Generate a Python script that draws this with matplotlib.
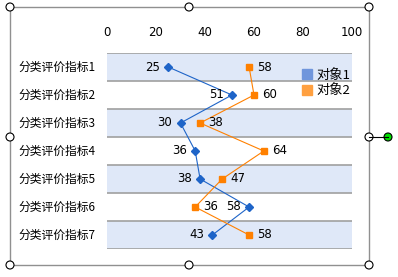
import matplotlib
matplotlib.use("Agg")
import matplotlib.pyplot as plt
from matplotlib.lines import Line2D
from matplotlib.patches import Rectangle, Circle
from matplotlib.transforms import blended_transform_factory

plt.rcParams['font.family'] = ['Noto Sans CJK SC', 'DejaVu Sans']

# data
categories = ["分类评价指标1", "分类评价指标2", "分类评价指标3", "分类评价指标4",
              "分类评价指标5", "分类评价指标6", "分类评价指标7"]
obj1 = [25, 51, 30, 36, 38, 58, 43]
obj2 = [58, 60, 38, 64, 47, 36, 58]
series_names = ["对象1", "对象2"]
x_ticks = [0, 20, 40, 60, 80, 100]

W, H = 398, 277
fig = plt.figure(figsize=(W / 100, H / 100), dpi=100)

# plot area in pixels: x 107..352, y 53..249
ax = fig.add_axes([107 / W, 1 - 249 / H, 245 / W, 196 / H])
ypos = list(range(1, len(categories) + 1))

for i in ypos:
    if i % 2 == 1:
        ax.axhspan(i - 0.5, i + 0.5, color='#DFE8F8', lw=0, zorder=0)
for i in range(len(categories) + 1):
    ax.axhline(i + 0.5, color='#A0A0A0', lw=1.2, zorder=1)

blue = '#1E64C8'
orange = '#FF8000'
ax.plot(obj1, ypos, color=blue, lw=0.8, marker='D', markersize=3.6, zorder=3)
ax.plot(obj2, ypos, color=orange, lw=0.8, marker='s', markersize=4.5, zorder=3)

for v, y in zip(obj1, ypos):
    ax.annotate(str(v), (v, y), xytext=(-6, 0), textcoords='offset points',
                ha='right', va='center', fontsize=8.5, family='DejaVu Sans')
for v, y in zip(obj2, ypos):
    ax.annotate(str(v), (v, y), xytext=(6, 0), textcoords='offset points',
                ha='left', va='center', fontsize=8.5, family='DejaVu Sans')

ax.set_xlim(0, 100)
ax.set_ylim(len(categories) + 0.5, 0.5)
ax.xaxis.tick_top()
ax.set_xticks(x_ticks)
ax.set_xticklabels([str(t) for t in x_ticks], fontsize=8.5, family='DejaVu Sans')
ax.tick_params(axis='x', length=0, pad=10)
ax.set_yticks([])
for s in ax.spines.values():
    s.set_visible(False)

# category labels, left aligned at x=18px
trans = blended_transform_factory(fig.transFigure, ax.transData)
for name, y in zip(categories, ypos):
    ax.text(18 / W, y, name, transform=trans, ha='left', va='center', fontsize=8.5)

handles = [Line2D([], [], marker='s', ls='none', color='#7096DC', markersize=7),
           Line2D([], [], marker='s', ls='none', color='#FFA040', markersize=7)]
fig.legend(handles, series_names, loc='upper left',
           bbox_to_anchor=(295 / W, 1 - 62 / H), frameon=False, fontsize=9.5,
           borderpad=0, handlelength=0.8, handletextpad=0.3, labelspacing=0.2)

# chart frame with selection handles
ov = fig.add_axes([0, 0, 1, 1], zorder=10)
ov.set_xlim(0, W)
ov.set_ylim(H, 0)
ov.axis('off')
ov.patch.set_alpha(0)
ov.add_patch(Rectangle((10, 7), 359, 258, fill=False, ec='#909090', lw=1))
ov.plot([369, 388], [137, 137], color='black', lw=0.8)
for cx, cy in [(10, 7), (189, 7), (369, 7), (10, 137), (369, 137),
               (10, 265), (189, 265), (369, 265)]:
    ov.add_patch(Circle((cx, cy), 4, fc='white', ec='black', lw=0.8))
ov.add_patch(Circle((388, 137), 4, fc='#00DD00', ec='black', lw=0.8))

fig.savefig("out.png", dpi=100)
